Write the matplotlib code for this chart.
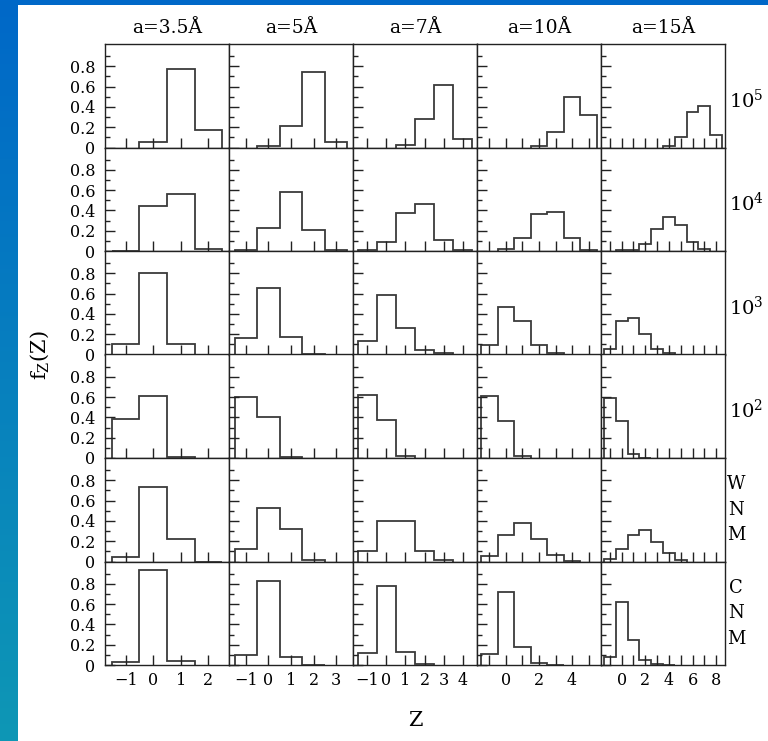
import numpy as np
import matplotlib.pyplot as plt

plt.rcParams['font.family'] = 'DejaVu Serif'
plt.rcParams['mathtext.fontset'] = 'dejavuserif'

# Grain sizes (columns) and environments (rows)
titles = ['a=3.5Å', 'a=5Å', 'a=7Å', 'a=10Å', 'a=15Å']
row_labels = ['$10^5$', '$10^4$', '$10^3$', '$10^2$', 'W\nN\nM', 'C\nN\nM']
z_max = [2, 3, 4, 5, 8]
x_labelled = [[-1, 0, 1, 2], [-1, 0, 1, 2, 3], [-1, 0, 1, 2, 3, 4],
              [0, 2, 4], [0, 2, 4, 6, 8]]

# f_Z(Z) per panel: (first Z, values for consecutive integer Z), rows top to bottom
fz_a35 = [(0, [0.056, 0.775, 0.17]),
          (-1, [0.003, 0.44, 0.56, 0.02]),
          (-1, [0.10, 0.80, 0.10, 0.0]),
          (-1, [0.384, 0.615, 0.007]),
          (-1, [0.042, 0.73, 0.226, 0.0]),
          (-1, [0.03, 0.935, 0.04])]
fz_a5 = [(0, [0.01, 0.21, 0.74, 0.052]),
         (-1, [0.005, 0.223, 0.58, 0.21, 0.005]),
         (-1, [0.164, 0.66, 0.177, 0.007]),
         (-1, [0.60, 0.40, 0.01]),
         (-1, [0.121, 0.531, 0.322, 0.017]),
         (-1, [0.10, 0.83, 0.075, 0.002])]
fz_a7 = [(1, [0.023, 0.28, 0.62, 0.08]),
         (-1, [0.005, 0.086, 0.374, 0.46, 0.108, 0.005]),
         (-1, [0.13, 0.585, 0.265, 0.04, 0.01]),
         (-1, [0.62, 0.374, 0.017]),
         (-1, [0.10, 0.40, 0.40, 0.10, 0.01]),
         (-1, [0.115, 0.78, 0.125, 0.01])]
fz_a10 = [(2, [0.01, 0.155, 0.50, 0.325]),
          (0, [0.017, 0.131, 0.364, 0.387, 0.125, 0.01]),
          (-1, [0.098, 0.47, 0.33, 0.098, 0.013, 0.0]),
          (-1, [0.613, 0.364, 0.023]),
          (-1, [0.05, 0.266, 0.38, 0.22, 0.06, 0.005]),
          (-1, [0.105, 0.72, 0.18, 0.02, 0.0])]
fz_a15 = [(4, [0.01, 0.108, 0.347, 0.407, 0.12]),
          (0, [0.005, 0.01, 0.072, 0.215, 0.34, 0.26, 0.085, 0.02]),
          (-1, [0.056, 0.328, 0.36, 0.203, 0.056, 0.013, 0.0]),
          (-1, [0.594, 0.367, 0.039, 0.003]),
          (-1, [0.026, 0.121, 0.266, 0.312, 0.19, 0.082, 0.016]),
          (-1, [0.08, 0.62, 0.25, 0.045, 0.01, 0.0])]
columns = [fz_a35, fz_a5, fz_a7, fz_a10, fz_a15]


def z_label(z, keep):
    if z not in keep:
        return ''
    return '\u2212' + str(-z) if z < 0 else str(z)


W, H = 768, 741
fig = plt.figure(figsize=(W / 100, H / 100), dpi=100)
fig.patch.set_facecolor('white')

# blue frame of the slide: top band and left gradient strip
band = fig.add_axes([0, 1 - 5 / H, 1, 5 / H])
band.set_facecolor('#0068c8')
band.set_xticks([])
band.set_yticks([])
for s in band.spines.values():
    s.set_visible(False)
strip = fig.add_axes([0, 0, 17.5 / W, 1])
top_c = np.array([0x00, 0x68, 0xc8]) / 255
bot_c = np.array([0x0e, 0x97, 0xb5]) / 255
t = np.linspace(0, 1, 256)[:, None]
grad = (top_c[None, :] * (1 - t) + bot_c[None, :] * t)[:, None, :]
strip.imshow(grad, aspect='auto', extent=[0, 1, 0, 1])
strip.axis('off')

left, top_px, col_w, row_h = 105, 44, 124, 103.5
for c, col in enumerate(columns):
    ticks = np.arange(-1, z_max[c] + 1)
    for r, (z0, vals) in enumerate(col):
        y0 = top_px + (r + 1) * row_h
        ax = fig.add_axes([(left + c * col_w) / W, 1 - y0 / H,
                           col_w / W, row_h / H])
        edges = z0 - 0.5 + np.arange(len(vals) + 1)
        ax.stairs(vals, edges, baseline=0, color='#3a3a3a', lw=1.3)
        ax.set_xlim(-1.75, z_max[c] + 0.75)
        ax.set_ylim(0, 1.02)
        ax.set_yticks([0, 0.2, 0.4, 0.6, 0.8])
        ax.set_yticks(np.arange(0.1, 1.0, 0.2), minor=True)
        ax.set_xticks(ticks)
        ax.tick_params(which='both', direction='in', top=False, right=False,
                       width=1.0, color='#222222')
        ax.tick_params(which='major', length=7.2, labelsize=11.5, pad=5)
        ax.tick_params(which='minor', length=3.6)
        ax.tick_params(axis='y', which='major', pad=7)
        for s in ax.spines.values():
            s.set_linewidth(1.0)
            s.set_color('#222222')
        if c == 0:
            ax.set_yticklabels(['0', '0.2', '0.4', '0.6', '0.8'])
        else:
            ax.set_yticklabels([])
        if r == 5:
            ax.set_xticklabels([z_label(z, x_labelled[c]) for z in ticks])
        else:
            ax.set_xticklabels([])

# column titles
for c, title in enumerate(titles):
    fig.text((left + (c + 0.5) * col_w) / W, 1 - 28 / H, title,
             ha='center', va='center', fontsize=13.5)

# row labels on the right
for r, lab in enumerate(row_labels):
    yc = top_px + (r + 0.5) * row_h
    if lab.startswith('$'):
        fig.text(729 / W, 1 - (yc + 4) / H, lab, ha='left', va='center',
                 fontsize=14)
    else:
        fig.text(736 / W, 1 - yc / H, lab, ha='center', va='center',
                 fontsize=13, linespacing=1.55)

fig.text(415 / W, 1 - 721 / H, 'Z', ha='center', va='center', fontsize=15)
fig.text(40 / W, 1 - 355 / H, '$\\mathrm{f_Z(Z)}$', ha='center', va='center',
         rotation=90, fontsize=15)

fig.savefig('out.png', dpi=100, facecolor='white')
